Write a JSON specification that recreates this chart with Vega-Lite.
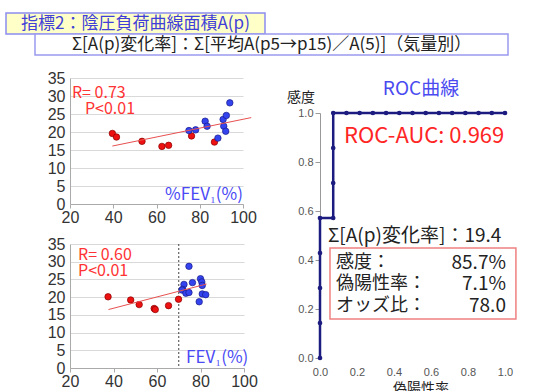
{
  "$schema": "https://vega.github.io/schema/vega-lite/v6.json",
  "padding": {"left": 3, "top": 12, "right": 0, "bottom": 0},
  "autosize": {"type": "pad"},
  "config": {
    "view": {"stroke": null},
    "font": "Noto Sans CJK JP",
    "concat": {"spacing": 0},
    "axis": {"labelFont": "Liberation Sans", "labelOverlap": false}
  },
  "bounds": "flush",
  "spacing": 0,
  "vconcat": [
    {
      "width": 259, "height": 21,
      "view": {"fill": "#ffffc8", "stroke": "#8c8cf0", "strokeWidth": 1.5},
      "data": {"values": [{"t": "指標2：陰圧負荷曲線面積A(p)"}]},
      "mark": {"type": "text", "fontSize": 17, "color": "#4040d8", "align": "center", "baseline": "middle"},
      "encoding": {"text": {"field": "t"}}
    },
    {
      "bounds": "flush", "spacing": 0,
      "hconcat": [
        {"width": 29, "height": 1, "data": {"values": [{}]}, "mark": {"type": "point", "opacity": 0}},
        {
          "width": 473, "height": 21,
          "view": {"fill": "#ffffff", "stroke": "#9a9af0", "strokeWidth": 1.5},
          "data": {"values": [{"t": "Σ[A(p)変化率]：Σ[平均A(p5→p15)／A(5)]（気量別）"}]},
          "mark": {"type": "text", "fontSize": 17, "color": "#222222", "align": "center", "baseline": "middle"},
          "encoding": {"text": {"field": "t"}}
        }
      ]
    },
    {"width": 1, "height": 21, "data": {"values": [{}]}, "mark": {"type": "point", "opacity": 0}},
    {
      "bounds": "flush", "spacing": 0,
      "hconcat": [
        {"width": 64, "height": 1, "data": {"values": [{}]}, "mark": {"type": "point", "opacity": 0}},
        {
          "bounds": "flush", "spacing": 0,
          "vconcat": [
            {"width": 1, "height": 23, "data": {"values": [{}]}, "mark": {"type": "point", "opacity": 0}},
            {
              "width": 173, "height": 126,
              "encoding": {
                "x": {"field": "x", "type": "quantitative", "scale": {"domain": [20, 100], "nice": false},
                  "axis": {"values": [20, 40, 60, 80, 100], "labelOverlap": false, "title": null, "grid": false, "labelFontSize": 16, "labelColor": "#333333", "domainColor": "#aaaaaa", "tickColor": "#aaaaaa", "tickSize": 4, "labelPadding": 1, "labelFlush": false}},
                "y": {"field": "y", "type": "quantitative", "scale": {"domain": [0, 35], "nice": false},
                  "axis": {"values": [0, 5, 10, 15, 20, 25, 30, 35], "labelOverlap": false, "title": null, "grid": true, "gridColor": "#d9d9d9", "labelFontSize": 16, "labelColor": "#333333", "domainColor": "#aaaaaa", "ticks": false, "labelPadding": 5}}
              },
              "layer": [
                {
                  "data": {"values": [
                    {"x": 39.6, "y": 19.6, "g": "low"},
                    {"x": 41.5, "y": 18.6, "g": "low"},
                    {"x": 53.3, "y": 17.4, "g": "low"},
                    {"x": 62.5, "y": 16.0, "g": "low"},
                    {"x": 65.6, "y": 16.3, "g": "low"},
                    {"x": 76.2, "y": 18.9, "g": "low"},
                    {"x": 86.8, "y": 17.2, "g": "low"},
                    {"x": 75.0, "y": 20.4, "g": "high"},
                    {"x": 78.1, "y": 20.6, "g": "high"},
                    {"x": 82.5, "y": 23.0, "g": "high"},
                    {"x": 83.4, "y": 21.6, "g": "high"},
                    {"x": 88.4, "y": 18.3, "g": "high"},
                    {"x": 90.8, "y": 23.5, "g": "high"},
                    {"x": 91.1, "y": 21.6, "g": "high"},
                    {"x": 92.0, "y": 20.2, "g": "high"},
                    {"x": 92.3, "y": 24.6, "g": "high"},
                    {"x": 93.9, "y": 28.1, "g": "high"}
                  ]},
                  "mark": {"type": "circle", "size": 42, "opacity": 1, "strokeWidth": 0.7},
                  "encoding": {
                    "fill": {"field": "g", "type": "nominal", "scale": {"domain": ["low", "high"], "range": ["#ee1111", "#3344ee"]}, "legend": null},
                    "stroke": {"field": "g", "type": "nominal", "scale": {"domain": ["low", "high"], "range": ["#8a0000", "#1a1a88"]}, "legend": null}
                  }
                },
                {
                  "data": {"values": [{"x": 39.6, "y": 16.1}, {"x": 103.8, "y": 24.0}]},
                  "mark": {"type": "line", "color": "#e85050", "strokeWidth": 1},
                  "encoding": {}
                },
                {
                  "data": {"values": [{"x": 20.9, "y": 30.9, "t": "R= 0.73"}, {"x": 26.9, "y": 26.4, "t": "P<0.01"}]},
                  "mark": {"type": "text", "fontSize": 16, "color": "#ff3333", "align": "left", "baseline": "middle"},
                  "encoding": {"text": {"field": "t"}}
                },
                {
                  "data": {"values": [{"x": 100, "y": 2.5, "t": "%FEV₁(%)"}]},
                  "mark": {"type": "text", "fontSize": 17, "color": "#4a4af5", "align": "right", "baseline": "middle"},
                  "encoding": {"text": {"field": "t"}}
                }
              ]
            },
            {"width": 1, "height": 40, "data": {"values": [{}]}, "mark": {"type": "point", "opacity": 0}},
            {
              "width": 174, "height": 124,
              "encoding": {
                "x": {"field": "x", "type": "quantitative", "scale": {"domain": [20, 100], "nice": false},
                  "axis": {"values": [20, 40, 60, 80, 100], "labelOverlap": false, "title": null, "grid": false, "labelFontSize": 16, "labelColor": "#333333", "domainColor": "#aaaaaa", "tickColor": "#aaaaaa", "tickSize": 4, "labelPadding": 1, "labelFlush": false}},
                "y": {"field": "y", "type": "quantitative", "scale": {"domain": [0, 35], "nice": false},
                  "axis": {"values": [0, 5, 10, 15, 20, 25, 30, 35], "labelOverlap": false, "title": null, "grid": true, "gridColor": "#d9d9d9", "labelFontSize": 16, "labelColor": "#333333", "domainColor": "#aaaaaa", "ticks": false, "labelPadding": 5}}
              },
              "layer": [
                {
                  "data": {"values": [{"x": 70}]},
                  "mark": {"type": "rule", "color": "#444444", "strokeDash": [2, 2], "strokeWidth": 1},
                  "encoding": {"y": null}
                },
                {
                  "data": {"values": [
                    {"x": 37.5, "y": 20.1, "g": "low"},
                    {"x": 47.9, "y": 19.2, "g": "low"},
                    {"x": 51.8, "y": 17.9, "g": "low"},
                    {"x": 58.7, "y": 16.8, "g": "low"},
                    {"x": 59.2, "y": 16.5, "g": "low"},
                    {"x": 65.3, "y": 17.6, "g": "low"},
                    {"x": 69.9, "y": 19.4, "g": "low"},
                    {"x": 74.7, "y": 28.7, "g": "high"},
                    {"x": 72.4, "y": 23.6, "g": "high"},
                    {"x": 71.8, "y": 22.2, "g": "high"},
                    {"x": 71.5, "y": 22.0, "g": "high"},
                    {"x": 73.3, "y": 21.1, "g": "high"},
                    {"x": 74.7, "y": 21.3, "g": "high"},
                    {"x": 76.3, "y": 24.1, "g": "high"},
                    {"x": 80.0, "y": 25.2, "g": "high"},
                    {"x": 80.6, "y": 24.3, "g": "high"},
                    {"x": 80.8, "y": 23.3, "g": "high"},
                    {"x": 80.8, "y": 20.9, "g": "high"},
                    {"x": 82.4, "y": 20.7, "g": "high"},
                    {"x": 79.4, "y": 18.7, "g": "high"}
                  ]},
                  "mark": {"type": "circle", "size": 42, "opacity": 1, "strokeWidth": 0.7},
                  "encoding": {
                    "fill": {"field": "g", "type": "nominal", "scale": {"domain": ["low", "high"], "range": ["#ee1111", "#3344ee"]}, "legend": null},
                    "stroke": {"field": "g", "type": "nominal", "scale": {"domain": ["low", "high"], "range": ["#8a0000", "#1a1a88"]}, "legend": null}
                  }
                },
                {
                  "data": {"values": [{"x": 37.7, "y": 16.5}, {"x": 82.8, "y": 23.7}]},
                  "mark": {"type": "line", "color": "#e85050", "strokeWidth": 1},
                  "encoding": {}
                },
                {
                  "data": {"values": [{"x": 23.7, "y": 31.9, "t": "R= 0.60"}, {"x": 23.7, "y": 27.4, "t": "P<0.01"}]},
                  "mark": {"type": "text", "fontSize": 16, "color": "#ff3333", "align": "left", "baseline": "middle"},
                  "encoding": {"text": {"field": "t"}}
                },
                {
                  "data": {"values": [{"x": 102, "y": 2.8, "t": "FEV₁(%)"}]},
                  "mark": {"type": "text", "fontSize": 17, "color": "#4a4af5", "align": "right", "baseline": "middle"},
                  "encoding": {"text": {"field": "t"}}
                }
              ]
            }
          ]
        },
        {"width": 250, "height": 1, "data": {"values": [{}]}, "mark": {"type": "point", "opacity": 0}},
        {
          "bounds": "flush", "spacing": 0,
          "vconcat": [
            {"width": 1, "height": 58, "data": {"values": [{}]}, "mark": {"type": "point", "opacity": 0}},
            {
              "width": 185, "height": 245,
              "encoding": {
                "x": {"field": "x", "type": "quantitative", "scale": {"domain": [0, 1], "nice": false},
                  "axis": {"values": [0, 0.2, 0.4, 0.6, 0.8, 1], "labelOverlap": false, "format": ".1f", "title": null, "grid": false, "domain": false, "ticks": false, "labelFontSize": 11, "labelColor": "#555555", "labelPadding": 8, "labelFlush": false}},
                "y": {"field": "y", "type": "quantitative", "scale": {"domain": [0, 1], "nice": false},
                  "axis": {"values": [0, 0.2, 0.4, 0.6, 0.8, 1], "labelOverlap": false, "format": ".1f", "title": null, "grid": false, "labelFontSize": 11, "labelColor": "#555555", "domainColor": "#999999", "tickColor": "#999999", "tickSize": 5, "labelPadding": 2}}
              },
              "layer": [
                {
                  "data": {"values": [
                    {"o": 1, "x": 0, "y": 0},
                    {"o": 2, "x": 0, "y": 0.1429},
                    {"o": 3, "x": 0, "y": 0.2857},
                    {"o": 4, "x": 0, "y": 0.4286},
                    {"o": 5, "x": 0, "y": 0.5714},
                    {"o": 6, "x": 0.0714, "y": 0.5714},
                    {"o": 7, "x": 0.0714, "y": 0.7143},
                    {"o": 8, "x": 0.0714, "y": 0.8571},
                    {"o": 9, "x": 0.0714, "y": 1},
                    {"o": 10, "x": 0.1429, "y": 1},
                    {"o": 11, "x": 0.2143, "y": 1},
                    {"o": 12, "x": 0.2857, "y": 1},
                    {"o": 13, "x": 0.3571, "y": 1},
                    {"o": 14, "x": 0.4286, "y": 1},
                    {"o": 15, "x": 0.5, "y": 1},
                    {"o": 16, "x": 0.5714, "y": 1},
                    {"o": 17, "x": 0.6429, "y": 1},
                    {"o": 18, "x": 0.7143, "y": 1},
                    {"o": 19, "x": 0.7857, "y": 1},
                    {"o": 20, "x": 0.8571, "y": 1},
                    {"o": 21, "x": 0.9286, "y": 1},
                    {"o": 22, "x": 1, "y": 1}
                  ]},
                  "mark": {"type": "line", "color": "#1c1c80", "strokeWidth": 2.5, "point": {"filled": true, "size": 22, "color": "#1c1c80"}},
                  "encoding": {"order": {"field": "o", "type": "quantitative"}}
                },
                {
                  "data": {"values": [{"x": 0.054, "x2": 1.059, "y": 0.159, "y2": 0.449}]},
                  "mark": {"type": "rect", "fill": "#ffffff", "stroke": "#f08080", "strokeWidth": 1.5},
                  "encoding": {"x2": {"field": "x2"}, "y2": {"field": "y2"}}
                },
                {
                  "data": {"values": [{"x": 0.546, "y": 1.098, "t": "ROC曲線"}]},
                  "mark": {"type": "text", "fontSize": 19, "color": "#4a4af0", "align": "center", "baseline": "middle"},
                  "encoding": {"text": {"field": "t"}}
                },
                {
                  "data": {"values": [{"x": -0.103, "y": 1.061, "t": "感度"}, {"x": 0.546, "y": -0.125, "t": "偽陽性率"}]},
                  "mark": {"type": "text", "fontSize": 14, "color": "#222222", "align": "center", "baseline": "middle"},
                  "encoding": {"text": {"field": "t"}}
                },
                {
                  "data": {"values": [{"x": 0.13, "y": 0.906, "t": "ROC-AUC: 0.969"}]},
                  "mark": {"type": "text", "fontSize": 22, "color": "#ff2525", "align": "left", "baseline": "middle"},
                  "encoding": {"text": {"field": "t"}}
                },
                {
                  "data": {"values": [{"x": 0.043, "y": 0.498, "t": "Σ[A(p)変化率]：19.4"}]},
                  "mark": {"type": "text", "fontSize": 19, "color": "#222222", "align": "left", "baseline": "middle"},
                  "encoding": {"text": {"field": "t"}}
                },
                {
                  "data": {"values": [{"x": 0.086, "y": 0.388, "t": "感度："}, {"x": 0.086, "y": 0.302, "t": "偽陽性率："}, {"x": 0.086, "y": 0.212, "t": "オッズ比："}]},
                  "mark": {"type": "text", "fontSize": 18, "color": "#222222", "align": "left", "baseline": "middle"},
                  "encoding": {"text": {"field": "t"}}
                },
                {
                  "data": {"values": [{"x": 1.005, "y": 0.388, "t": "85.7%"}, {"x": 1.005, "y": 0.302, "t": "7.1%"}, {"x": 1.005, "y": 0.212, "t": "78.0"}]},
                  "mark": {"type": "text", "fontSize": 19, "color": "#222222", "align": "right", "baseline": "middle"},
                  "encoding": {"text": {"field": "t"}}
                }
              ]
            }
          ]
        }
      ]
    }
  ]
}
